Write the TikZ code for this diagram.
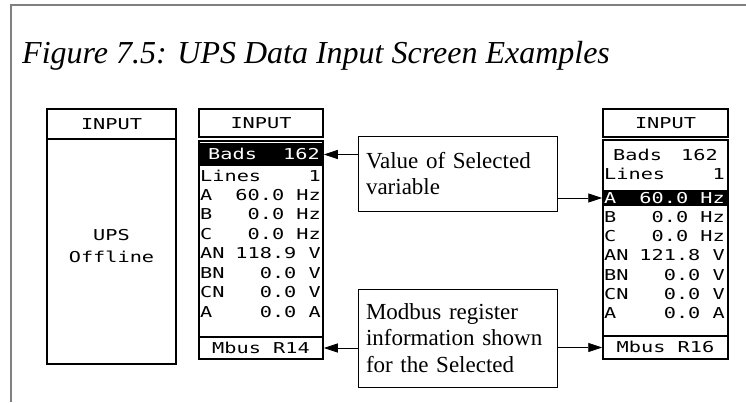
\documentclass[tikz,border=0pt]{standalone}
\usepackage{fontspec}
\setmainfont{Liberation Serif}
\newfontfamily\lcd[FakeStretch=1.35]{DejaVu Sans Mono}
\usepackage{tikz}
\usetikzlibrary{arrows.meta}
\tikzset{
    pageframe/.style = {draw=gray,line width=1.2pt},
    screen/.style = {draw,line width=1.5pt,inner sep=0},
    lcdtext/.style = {font=\lcd\fontsize{15}{22}\selectfont,inner sep=0,text height=10.5pt,text depth=0pt},
    lab/.style = {lcdtext,anchor=west},
    val/.style = {lcdtext,anchor=east},
    selbar/.style = {fill=black,inner sep=0},
    callout/.style = {draw,line width=0.8pt,inner xsep=8pt,inner ysep=0,minimum width=199pt,text width=183pt,align=left,font=\fontsize{23}{26.5}\selectfont},
    pointer/.style = {line width=0.8pt,-{Triangle[length=14pt,width=9pt]}}
}
\begin{document}
\begin{tikzpicture}[x=1pt,y=-1pt]
    \useasboundingbox (0,0) rectangle (746,402);
    % Frame and title
    \draw[pageframe] (11,402) -- (11,5) -- (746,5);
    \node[anchor=base west,inner sep=0,font=\fontsize{32}{38}\selectfont\itshape] (title) at (22,63) {Figure 7.5: UPS Data Input Screen Examples};
    % Offline screen
    \node[screen,minimum width=129pt,minimum height=30pt] (lhead) at (111.5,124) {};
    \node[lcdtext] at (lhead) {INPUT};
    \node[screen,minimum width=129pt,minimum height=225pt] (lbody) at (111.5,251.5) {};
    \node[lcdtext] (ups) at (111.5,235) {UPS};
    \node[lcdtext] (offl) at (111.5,257) {Offline};
    % Screen with Bads selected
    \node[screen,minimum width=124pt,minimum height=28pt] (mhead) at (261,123) {};
    \node[lcdtext] at (mhead) {INPUT};
    \node[screen,minimum width=124pt,minimum height=218pt] (mbody) at (261,250) {};
    \node[selbar,minimum width=122.5pt,minimum height=23pt] (mbar) at (261,154.5) {};
    \node[lab,text=white] (mbadsl) at (208,154.5) {Bads};
    \node[val,text=white] (mbadsv) at (320,154.5) {162};
    \foreach \y/\l/\v [count=\i] in {176/Lines/1,195/A/60.0 Hz,214/B/0.0 Hz,234/C/0.0 Hz,253/AN/118.9 V,273/BN/0.0 V,292/CN/0.0 V,312/A/0.0 A}{
        \node[lab] (ml\i) at (200,\y) {\l};
        \node[val] (mv\i) at (321,\y) {\v};
    }
    \node[screen,lcdtext,minimum width=124pt,minimum height=22pt] (mfoot) at (261,348) {Mbus R14};
    % Screen with A selected
    \node[screen,minimum width=125pt,minimum height=28pt] (rhead) at (665.5,123) {};
    \node[lcdtext] at (rhead) {INPUT};
    \node[screen,minimum width=125pt,minimum height=219pt] (rbody) at (665.5,249.5) {};
    \node[lab] (rbadsl) at (613,155) {Bads};
    \node[val] (rbadsv) at (718,155) {162};
    \node[lab] (rlinesl) at (604,174) {Lines};
    \node[val] (rlinesv) at (725,174) {1};
    \node[selbar,minimum width=123.5pt,minimum height=16pt] (rbar) at (665.5,198) {};
    \node[lab,text=white] (rsell) at (604,198) {A};
    \node[val,text=white] (rselv) at (725,198) {60.0 Hz};
    \foreach \y/\l/\v [count=\i] in {217/B/0.0 Hz,236/C/0.0 Hz,255/AN/121.8 V,275/BN/0.0 V,294/CN/0.0 V,313/A/0.0 A}{
        \node[lab] (rl\i) at (604,\y) {\l};
        \node[val] (rv\i) at (725,\y) {\v};
    }
    \node[screen,lcdtext,minimum width=125pt,minimum height=23pt] (rfoot) at (665.5,347.5) {Mbus R16};
    % Callouts
    \node[callout,minimum height=75pt] (val) at (457.5,173.5) {Value of Selected\\variable};
    \node[callout,minimum height=98pt] (mod) at (457.5,338) {Modbus register\\information shown\\for the Selected};
    % Pointers
    \draw[pointer] (mbar -| val.west) -- (mbody.east |- mbar);
    \draw[pointer] (rbar -| val.east) -- (rbody.west |- rbar);
    \draw[pointer] (mfoot -| mod.west) -- (mfoot.east);
    \draw[pointer] (rfoot -| mod.east) -- (rfoot.west);
\end{tikzpicture}
\end{document}
